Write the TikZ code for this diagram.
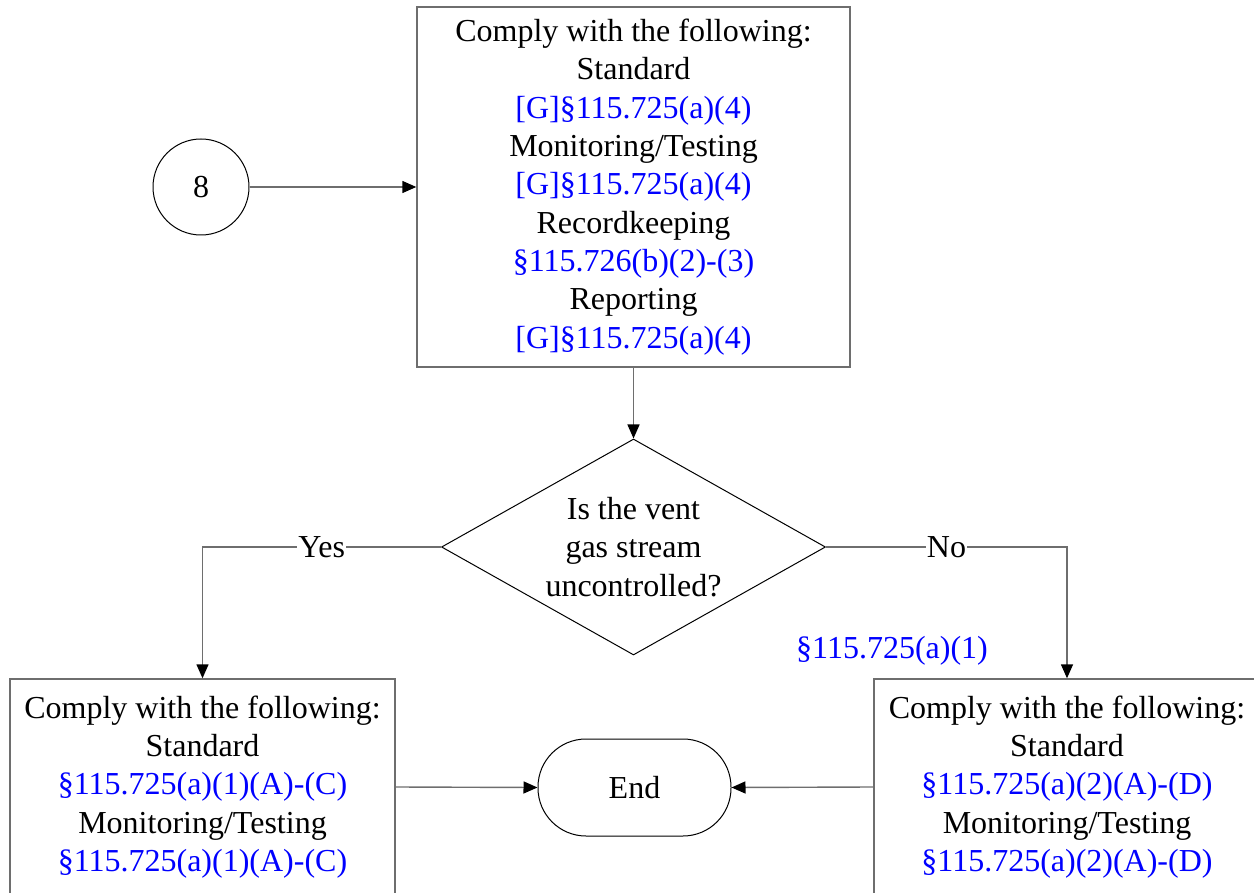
\documentclass[tikz,border=0pt]{standalone}
\usepackage{fontspec}
\setmainfont{Liberation Serif}
\usetikzlibrary{arrows.meta,shapes.geometric}
\definecolor{boxgray}{RGB}{110,110,110}
\definecolor{refblue}{RGB}{0,0,255}
\newcommand\bluetxt[1]{\textcolor{refblue}{#1}}
\begin{document}
\begin{tikzpicture}[x=1pt,y=-1pt,
  every node/.style={font=\fontsize{32}{38.3}\selectfont, align=center, inner sep=0pt},
  box/.style={draw=boxgray, line width=1.4pt, fill=white},
  shp/.style={draw=black, line width=1pt},
  conn/.style={draw=boxgray, line width=1.4pt, -{Triangle[length=14pt,width=12pt,color=black]}},
  lbl/.style={fill=white, inner sep=1pt}]
\useasboundingbox (0,0) rectangle (1254,893);
\clip (0,0) rectangle (1254,893);
\node[shp, circle, minimum size=96pt] (c8) at (201,187) {8};
\node[box, minimum width=433pt, minimum height=360pt] (top) at (633.5,187)
  {Comply with the following:\\Standard\\\bluetxt{[G]§115.725(a)(4)}\\Monitoring/Testing\\\bluetxt{[G]§115.725(a)(4)}\\Recordkeeping\\\bluetxt{§115.726(b)(2)-(3)}\\Reporting\\\bluetxt{[G]§115.725(a)(4)}};
\node[shp, diamond, aspect=1.78, minimum width=384pt, minimum height=216pt] (dia) at (633.5,547)
  {Is the vent\\gas stream\\uncontrolled?};
\node[box, minimum width=385pt, minimum height=216pt] (left) at (202.5,787)
  {Comply with the following:\\Standard\\\bluetxt{§115.725(a)(1)(A)-(C)}\\Monitoring/Testing\\\bluetxt{§115.725(a)(1)(A)-(C)}};
\node[box, minimum width=386pt, minimum height=216pt] (right) at (1067,787)
  {Comply with the following:\\Standard\\\bluetxt{§115.725(a)(2)(A)-(D)}\\Monitoring/Testing\\\bluetxt{§115.725(a)(2)(A)-(D)}};
\node[shp, rectangle, rounded corners=48pt, minimum width=193pt, minimum height=97pt] (end) at (634.5,787.5) {End};
\node (ref1) at (892,651) {\bluetxt{§115.725(a)(1)}};
\draw[conn] (c8.east) -- (top.west);
\draw[conn] (top.south) -- (dia.north);
\draw[conn] (dia.west) -| node[pos=0.25, lbl] {Yes} (left.north);
\draw[conn] (dia.east) -| node[pos=0.25, lbl] {No} (right.north);
\draw[conn] (left.east) -- (end.west);
\draw[conn] (right.west) -- (end.east);
\end{tikzpicture}
\end{document}
